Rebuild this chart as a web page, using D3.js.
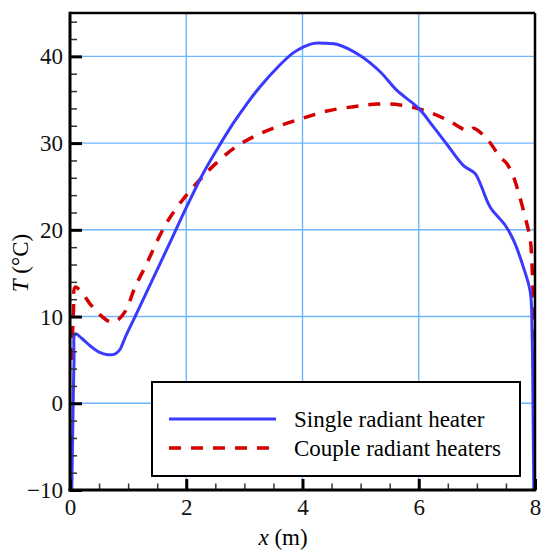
<!DOCTYPE html>
<html>
<head>
<meta charset="utf-8">
<script src="https://cdn.jsdelivr.net/npm/d3@7"></script>
<style>
  html, body { margin: 0; padding: 0; background: #fff; }
  svg, svg text { font-family: "Liberation Serif", "Times New Roman", serif !important; }
  svg { display: block; }
</style>
</head>
<body>
<svg id="chart" width="542" height="553"></svg>
<script>
// ---- data ----
const singleX = [0.03, 0.05, 0.07, 0.09, 0.2, 0.35, 0.5, 0.65, 0.78, 0.86, 0.95, 1.12, 1.43, 1.78, 2.01, 2.29, 2.55, 2.81, 3.04, 3.27, 3.61, 3.84, 4.02, 4.19, 4.42, 4.59, 4.99, 5.34, 5.62, 6.0, 6.25, 6.48, 6.77, 6.97, 7.06, 7.23, 7.49, 7.63, 7.80, 7.92, 7.95, 7.97, 7.98];
const singleT = [-10, -2, 5, 8.0, 7.5, 6.6, 5.9, 5.6, 5.7, 6.2, 7.6, 10.0, 14.4, 19.4, 22.7, 26.5, 29.5, 32.3, 34.5, 36.5, 39.0, 40.4, 41.1, 41.5, 41.5, 41.4, 40.1, 38.2, 36.1, 34.0, 31.9, 29.9, 27.4, 26.5, 25.3, 22.6, 20.5, 18.8, 15.7, 12.8, 8.1, -3.4, -10];
const coupleX = [0.03, 0.06, 0.09, 0.2, 0.34, 0.5, 0.69, 0.8, 0.95, 1.12, 1.32, 1.52, 1.69, 1.92, 2.21, 2.47, 2.84, 3.21, 3.61, 4.02, 4.42, 4.88, 5.28, 5.68, 6.08, 6.48, 6.86, 6.94, 7.17, 7.40, 7.52, 7.63, 7.69, 7.86, 7.92, 7.95, 7.97, 7.98, 7.99];
const coupleT = [5, 10.7, 13.4, 12.8, 11.5, 10.3, 9.4, 9.5, 10.6, 13.4, 16.1, 19.0, 21.1, 23.3, 25.6, 27.4, 29.5, 30.9, 32.0, 32.9, 33.7, 34.2, 34.5, 34.4, 33.8, 32.7, 31.4, 31.7, 30.5, 28.4, 27.6, 26.1, 24.9, 20.7, 18.8, 15.7, 11.9, 8.1, 5.4];
const xMajorTicks = [0, 2, 4, 6, 8];
const yMajorTicks = [-10, 0, 10, 20, 30, 40];
const seriesNames = ["Single radiant heater", "Couple radiant heaters"];

// ---- layout ----
const svg = d3.select("#chart");
const L = 70, R = 535, T = 13, B = 490;
const x = d3.scaleLinear().domain([0, 8]).range([L, R]);
const y = d3.scaleLinear().domain([-10, 45]).range([B, T]);
const font = 23;
const FF = "Liberation Serif";

// grid
const grid = svg.append("g").attr("stroke", "#6fb6ff").attr("stroke-width", 1.4);
[2, 4, 6].forEach(v => grid.append("line").attr("x1", x(v)).attr("x2", x(v)).attr("y1", T).attr("y2", B));
[0, 10, 20, 30, 40].forEach(v => grid.append("line").attr("x1", L).attr("x2", R).attr("y1", y(v)).attr("y2", y(v)));

// clip
svg.append("clipPath").attr("id", "clip").append("rect")
  .attr("x", L).attr("y", T).attr("width", R - L).attr("height", B - T);

const line = d3.line().x(d => x(d[0])).y(d => y(d[1])).curve(d3.curveCatmullRom.alpha(0.5));
const singleData = singleX.map((v, i) => [v, singleT[i]]);
const coupleData = coupleX.map((v, i) => [v, coupleT[i]]);

const curves = svg.append("g").attr("clip-path", "url(#clip)");
curves.append("path").datum(coupleData).attr("d", line)
  .attr("fill", "none").attr("stroke", "#d40000").attr("stroke-width", 3.5)
  .attr("stroke-dasharray", "12,10");
curves.append("path").datum(singleData).attr("d", line)
  .attr("fill", "none").attr("stroke", "#3a3aff").attr("stroke-width", 3)
  .attr("stroke-linejoin", "round");

// legend
const lg = svg.append("g");
lg.append("rect").attr("x", 152).attr("y", 382).attr("width", 368).attr("height", 94)
  .attr("fill", "#fff").attr("stroke", "#000").attr("stroke-width", 2);
lg.append("line").attr("x1", 169).attr("x2", 276).attr("y1", 419).attr("y2", 419)
  .attr("stroke", "#3a3aff").attr("stroke-width", 3);
lg.append("line").attr("x1", 169).attr("x2", 276).attr("y1", 448).attr("y2", 448)
  .attr("stroke", "#d40000").attr("stroke-width", 3.5).attr("stroke-dasharray", "12,10");
lg.append("text").attr("x", 294).attr("y", 427).attr("font-size", font).attr("font-family", FF).text(seriesNames[0]);
lg.append("text").attr("x", 294).attr("y", 456).attr("font-size", font).attr("font-family", FF).text(seriesNames[1]);

// axes
const xMinor = d3.range(0, 8.001, 0.5).filter(v => v % 2 !== 0);
const yMinor = d3.range(-10, 45.001, 2).filter(v => v % 10 !== 0);

const axX = svg.append("g").attr("transform", `translate(0,${B})`)
  .call(d3.axisBottom(x).tickValues(xMajorTicks).tickSize(-11).tickPadding(9).tickFormat(d3.format("d")));
const axXm = svg.append("g").attr("transform", `translate(0,${B})`)
  .call(d3.axisBottom(x).tickValues(xMinor).tickSize(-6.5).tickFormat(""));
const axY = svg.append("g").attr("transform", `translate(${L},0)`)
  .call(d3.axisLeft(y).tickValues(yMajorTicks).tickSize(-12).tickPadding(7).tickFormat(d3.format("d")));
const axYm = svg.append("g").attr("transform", `translate(${L},0)`)
  .call(d3.axisLeft(y).tickValues(yMinor).tickSize(-7).tickFormat(""));

[axX, axXm, axY, axYm].forEach(a => {
  a.attr("font-family", FF).attr("font-size", font);
  a.select(".domain").remove();
  a.selectAll("text").attr("font-size", font).attr("font-family", FF).attr("fill", "#111");
});
axX.selectAll("line").attr("stroke", "#000").attr("stroke-width", 3);
axY.selectAll("line").attr("stroke", "#000").attr("stroke-width", 3);
axXm.selectAll("line").attr("stroke", "#333").attr("stroke-width", 1.5);
axYm.selectAll("line").attr("stroke", "#333").attr("stroke-width", 1.5);
axX.selectAll("text").attr("dy", "0.71em");
axY.selectAll("text").attr("dy", "0.33em");

// frame
const fr = svg.append("g").attr("stroke", "#000").attr("fill", "none");
fr.append("line").attr("x1", L).attr("x2", R).attr("y1", T).attr("y2", T).attr("stroke-width", 2.5);
fr.append("line").attr("x1", R).attr("x2", R).attr("y1", T).attr("y2", B).attr("stroke-width", 2.5);
fr.append("line").attr("x1", L).attr("x2", L).attr("y1", T - 1.25).attr("y2", B + 1.5).attr("stroke-width", 3);
fr.append("line").attr("x1", L - 1.5).attr("x2", R + 1.25).attr("y1", B).attr("y2", B).attr("stroke-width", 3);

// axis titles
const xt = svg.append("text").attr("x", 283).attr("y", 545).attr("text-anchor", "middle")
  .attr("font-size", font).attr("font-family", FF);
xt.append("tspan").attr("font-style", "italic").text("x");
xt.append("tspan").text(" (m)");
const yt = svg.append("text").attr("transform", "translate(28,263) rotate(-90)")
  .attr("text-anchor", "middle").attr("font-size", font).attr("font-family", FF);
yt.append("tspan").attr("font-style", "italic").text("T");
yt.append("tspan").text(" (°C)");
</script>
</body>
</html>
